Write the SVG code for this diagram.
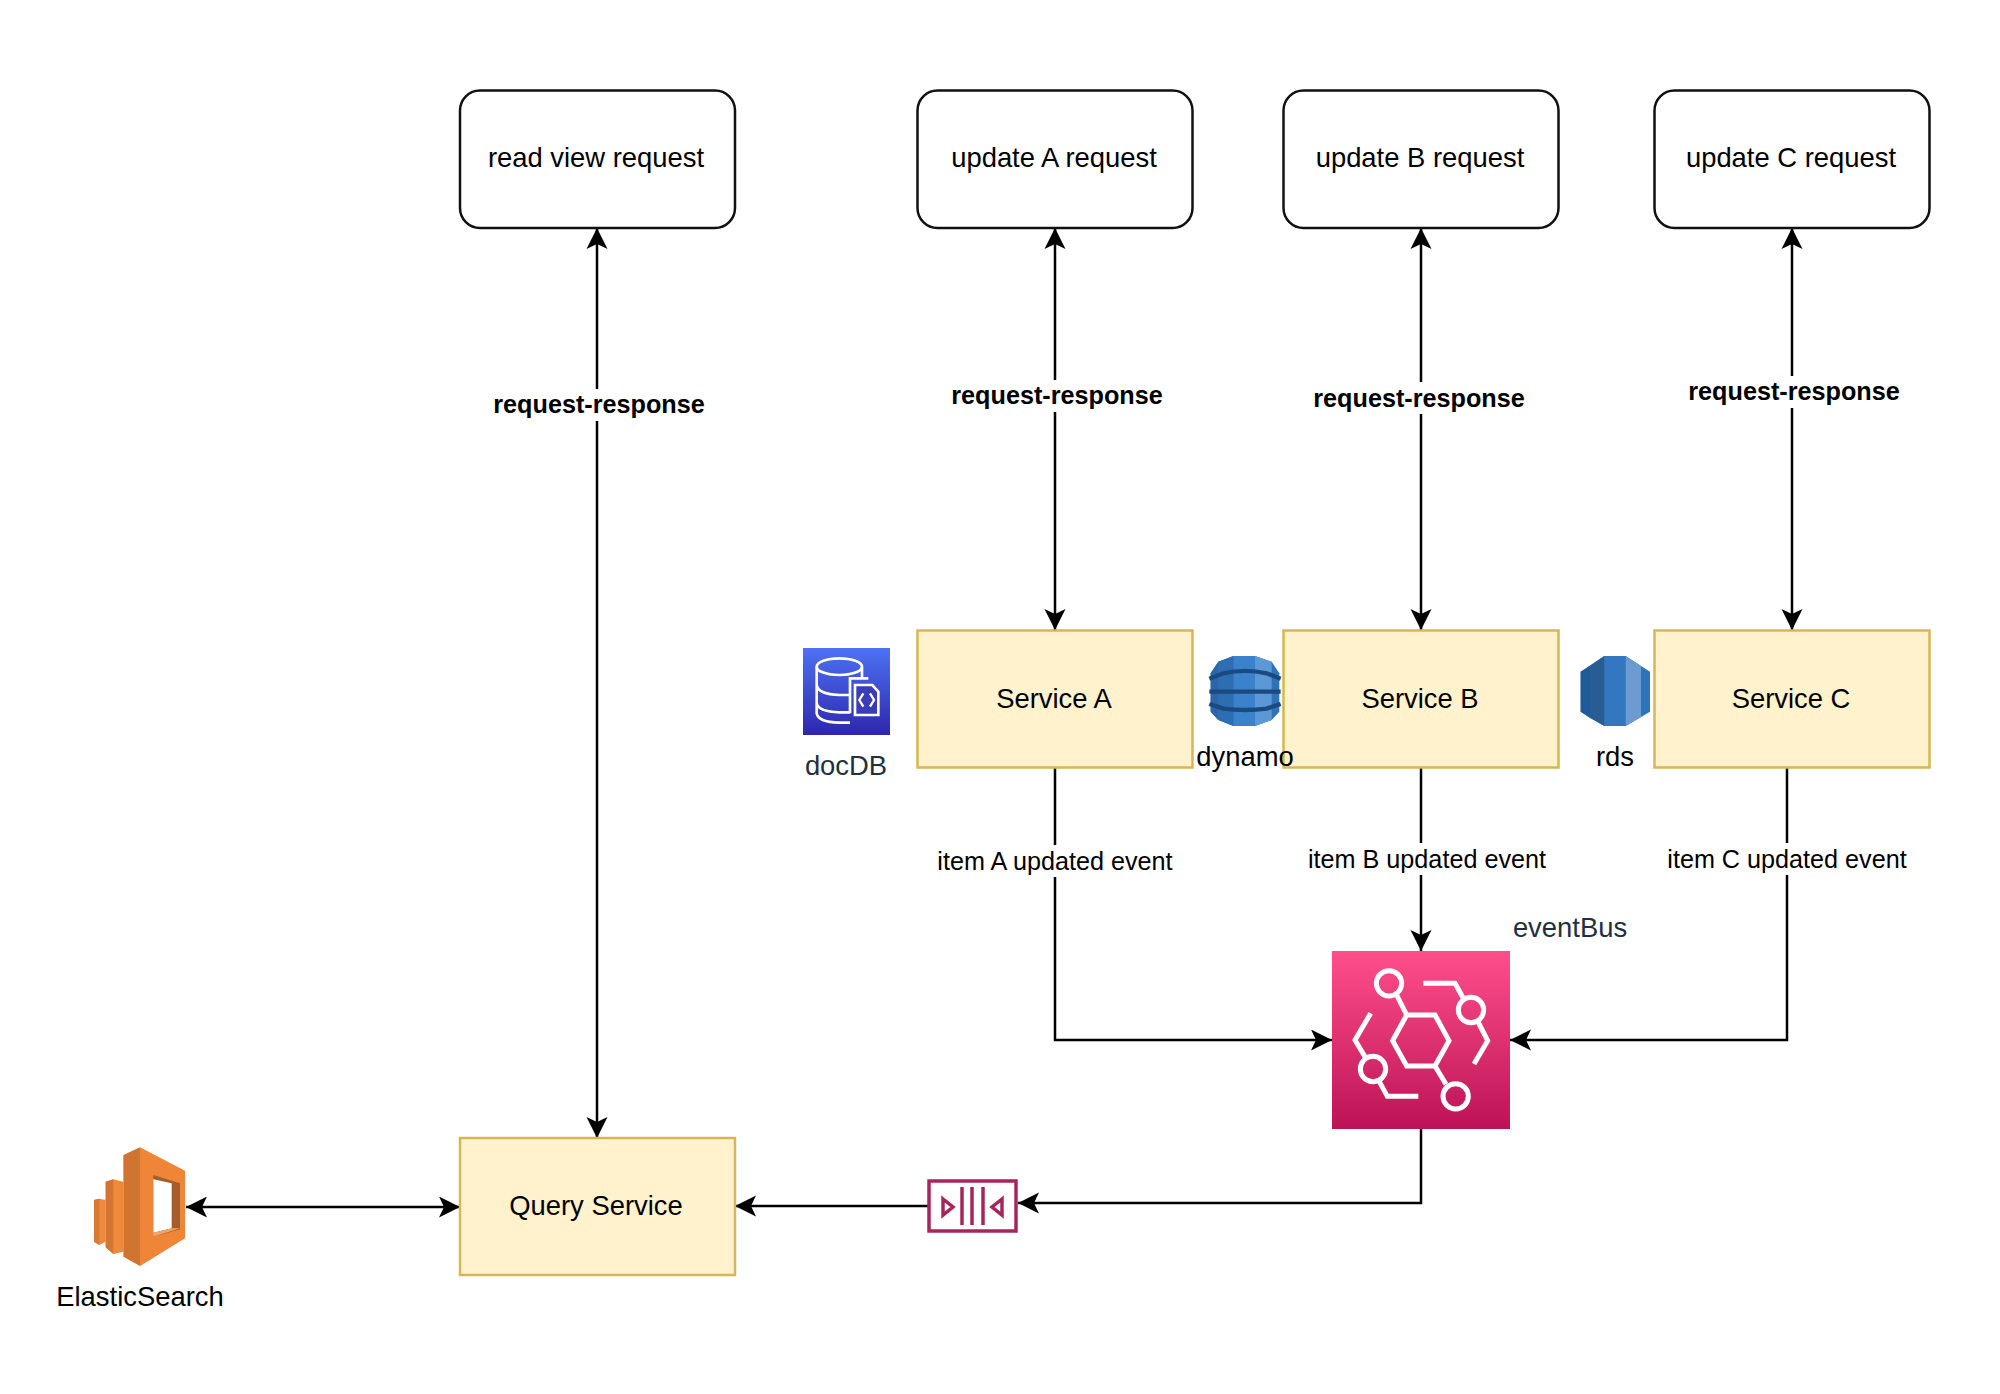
<svg xmlns="http://www.w3.org/2000/svg" width="2000" height="1394" viewBox="0 0 2000 1394">
<style>
text{font-family:"Liberation Sans",Arial,sans-serif;font-size:27.400px;fill:#000;text-anchor:middle}
.req{fill:#fff;stroke:#111;stroke-width:2.500}
.svc{fill:#fff2cc;stroke:#d6b656;stroke-width:2.500}
.c{fill:none;stroke:#000;stroke-width:2.500}
.a{marker-end:url(#ah)}
.b{marker-start:url(#ahs);marker-end:url(#ah)}
.lb{font-size:25.200px}
.rr{font-size:25.200px;font-weight:bold}
.aws{fill:#232f3e}
.mask{fill:#fff}
</style>
<defs>
<marker id="ah" markerUnits="userSpaceOnUse" markerWidth="24" markerHeight="24" refX="21" refY="10.500" orient="auto"><path d="M0 0L21 10.500L0 21L5 10.500Z" fill="#000"/></marker>
<marker id="ahs" markerUnits="userSpaceOnUse" markerWidth="24" markerHeight="24" refX="0" refY="10.500" orient="auto"><path d="M21 0L0 10.500L21 21L16 10.500Z" fill="#000"/></marker>
<linearGradient id="gB" x1="0" y1="1" x2="0" y2="0"><stop offset="0" stop-color="#bc1356"/><stop offset="1" stop-color="#ff4f8b"/></linearGradient>
<linearGradient id="gD" x1="0" y1="1" x2="0" y2="0"><stop offset="0" stop-color="#2e27ad"/><stop offset="1" stop-color="#4d72f3"/></linearGradient>
</defs>
<rect width="2000" height="1394" fill="#fff"/>
<g id="connectors">
<path class="c b" d="M597 228V1138"/>
<path class="c b" d="M1055 228V630"/>
<path class="c b" d="M1421 228V630"/>
<path class="c b" d="M1792 228V630"/>
<path class="c a" d="M1055 768V1040H1332"/>
<path class="c a" d="M1421 768V951"/>
<path class="c a" d="M1787 768V1040H1510"/>
<path class="c a" d="M1421 1129V1203H1018"/>
<path class="c a" d="M928 1206H735"/>
<path class="c b" d="M186 1207H460"/>
</g>
<g id="connector-labels">
<rect class="mask" x="490" y="389" width="216" height="32"/><text class="rr" x="599" y="413">request-response</text>
<rect class="mask" x="945" y="380" width="216" height="32"/><text class="rr" x="1057" y="404">request-response</text>
<rect class="mask" x="1308" y="382" width="216" height="32"/><text class="rr" x="1419" y="407">request-response</text>
<rect class="mask" x="1684" y="376" width="216" height="32"/><text class="rr" x="1794" y="400">request-response</text>
<rect class="mask" x="934" y="845" width="242" height="32"/><text class="lb" x="1055" y="870">item A updated event</text>
<rect class="mask" x="1306" y="843" width="242" height="32"/><text class="lb" x="1427" y="868">item B updated event</text>
<rect class="mask" x="1664" y="843" width="244" height="32"/><text class="lb" x="1787" y="868">item C updated event</text>
</g>
<g id="read-view-request"><rect class="req" x="460" y="90.500" width="275" height="137.500" rx="20"/><text x="596" y="167">read view request</text></g>
<g id="update-a-request"><rect class="req" x="917.500" y="90.500" width="275" height="137.500" rx="20"/><text x="1054" y="167">update A request</text></g>
<g id="update-b-request"><rect class="req" x="1283.500" y="90.500" width="275" height="137.500" rx="20"/><text x="1420" y="167">update B request</text></g>
<g id="update-c-request"><rect class="req" x="1654.500" y="90.500" width="275" height="137.500" rx="20"/><text x="1791" y="167">update C request</text></g>
<g id="service-a"><rect class="svc" x="917.500" y="630.500" width="275" height="137"/><text x="1054" y="708">Service A</text></g>
<g id="service-b"><rect class="svc" x="1283.500" y="630.500" width="275" height="137"/><text x="1420" y="708">Service B</text></g>
<g id="service-c"><rect class="svc" x="1654.500" y="630.500" width="275" height="137"/><text x="1791" y="708">Service C</text></g>
<g id="query-service"><rect class="svc" x="460" y="1138" width="275" height="137"/><text x="596" y="1215">Query Service</text></g>
<g id="docdb">
<rect x="803" y="648" width="87" height="87" fill="url(#gD)"/>
<g transform="translate(800 645) scale(.33333)" fill="none" stroke="#fff" stroke-width="8">
<ellipse cx="118" cy="65" rx="68" ry="25"/>
<path d="M50 65V205Q55 232 118 233H150M50 120Q55 148 118 150H150M50 175Q55 200 118 202H150M186 65V100"/>
<path d="M150 205V100H205"/>
<path d="M165 120H217L235 140V210H165Z" fill="#3a3cb8"/>
<path d="M190 145L178 165L190 185M210 145L222 165L210 185" stroke-width="7"/>
</g>
<text class="aws" x="846" y="775">docDB</text>
</g>
<g id="dynamo">
<g transform="translate(1190 640) scale(.33333)">
<path d="M62 100L85 65L130 48H195L245 65L268 100V215L245 240L195 258H130L85 240L62 215Z" fill="#2e73b8"/>
<path d="M62 100L85 65V240L62 215Z" fill="#2a66a8"/>
<path d="M130 48H195V258H130Z" fill="#3b82cc"/>
<path d="M195 48L245 65V240L195 258Z" fill="#5c97d6"/>
<path d="M85 65L130 48V258L85 240Z" fill="#2d6eb3"/>
<path d="M58 116L100 100Q165 85 230 100L272 116M58 155H272M58 192L100 206Q165 214 230 206L272 192" fill="none" stroke="#1a4a80" stroke-width="13"/>
</g>
<text x="1245" y="766">dynamo</text>
</g>
<g id="rds">
<g transform="translate(1560 640) scale(.33333)">
<path d="M62 95L133 48H197L270 95V215L197 258H133L62 215Z" fill="#2e73b8"/>
<path d="M62 95L90 77V234L62 215Z" fill="#205b99"/>
<path d="M90 77L133 48V258L90 234Z" fill="#2a5c94"/>
<path d="M133 48H197V258H133Z" fill="#3277c0"/>
<path d="M197 48L243 78V232L197 258Z" fill="#6d9bd0"/>
</g>
<text x="1615" y="766">rds</text>
</g>
<g id="eventbus">
<rect x="1332" y="951" width="178" height="178" fill="url(#gB)"/>
<g transform="translate(1300 930) scale(.33333)" fill="none" stroke="#fff" stroke-width="15">
<path d="M278 332L320 255H405L447 332L405 408H320Z"/>
<circle cx="267" cy="160" r="38"/><circle cx="513" cy="240" r="38"/><circle cx="219" cy="417" r="38"/><circle cx="467" cy="499" r="38"/>
<path d="M290 195L320 255M405 408L438 463M370 160H465L490 205M535 277L563 332L522 402M212 250L165 330L195 380M238 455L262 499H355"/>
</g>
<text class="aws" x="1570" y="937">eventBus</text>
</g>
<g id="queue">
<rect x="929" y="1181" width="87" height="50" fill="#fff" stroke="#a6265c" stroke-width="3.500"/>
<g fill="none" stroke="#a6265c" stroke-width="3.500"><path d="M962 1187V1225M972 1187V1225M983 1187V1225"/><path d="M943 1199L953 1207L943 1215Z"/><path d="M1002 1199L992 1207L1002 1215Z"/></g>
</g>
<g id="elasticsearch">
<g transform="translate(90 1140) scale(.33333)">
<path d="M12 180L28 176L47 180V305L28 315L12 305Z" fill="#ef8a3c"/>
<path d="M12 180L28 176V315L12 305Z" fill="#d97a33"/>
<path d="M47 125L70 118L100 125V335L70 342L47 322Z" fill="#ef8a3c"/>
<path d="M47 125L70 118V342L47 322Z" fill="#d47632"/>
<path d="M100 45L150 22V378L100 350Z" fill="#cf7531"/>
<path d="M150 22L285 92V295L150 378Z" fill="#ee8537"/>
<path d="M190 105L270 130V268L190 290Z" fill="#a85d28"/>
<path d="M190 118L245 130V265L190 278Z" fill="#fff"/>
<path d="M190 278L245 265H270L190 290Z" fill="#f4a565"/>
</g>
<text x="140" y="1306">ElasticSearch</text>
</g>
</svg>
